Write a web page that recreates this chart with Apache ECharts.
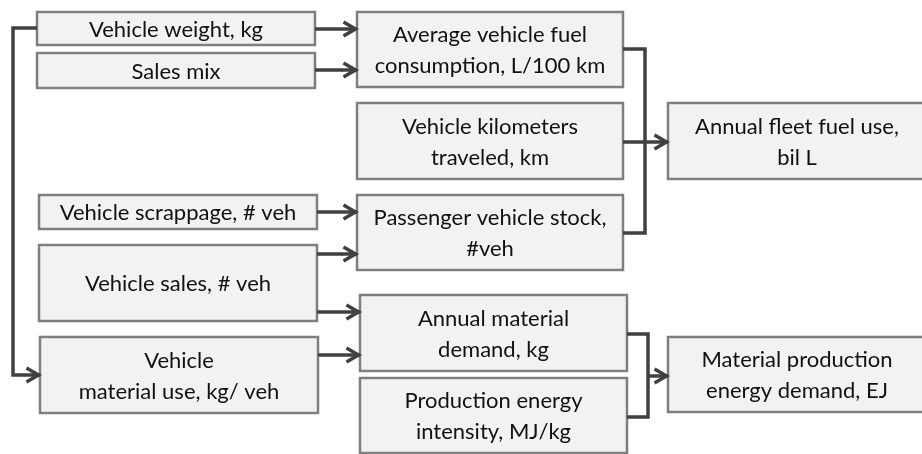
<!DOCTYPE html>
<html>
<head>
<meta charset="utf-8">
<script src="https://cdn.jsdelivr.net/npm/echarts@6/dist/echarts.min.js"></script>
<style>
html, body { margin: 0; padding: 0; background: #fff; }
#chart { width: 922px; height: 454px; }
</style>
</head>
<body>
<div id="chart"></div>
<script>
// box texts
var boxText = [
    'Vehicle weight, kg',
    'Sales mix',
    'Vehicle scrappage, # veh',
    'Vehicle sales, # veh',
    'Vehicle\nmaterial use, kg/ veh',
    'Average vehicle fuel\nconsumption, L/100 km',
    'Vehicle kilometers\ntraveled, km',
    'Passenger vehicle stock,\n#veh',
    'Annual material\ndemand, kg',
    'Production energy\nintensity, MJ/kg',
    'Annual fleet fuel use,\nbil L',
    'Material production\nenergy demand, EJ'
];
// box corners [x0, y0, x1, y1] in diagram units
var boxRect = [
    [37, 12, 315, 45],
    [37, 53, 315, 88],
    [39, 195, 317, 229],
    [39, 245, 317, 321],
    [40, 337, 318, 413],
    [357, 12, 623, 87],
    [357, 103, 623, 179],
    [357, 195, 623, 270],
    [360, 295, 627, 371],
    [360, 378, 627, 453],
    [668, 103, 926, 179],
    [668, 337, 926, 412]
];
// connector polylines
var links = [
    [[315, 29], [357, 29]],
    [[315, 70], [357, 70]],
    [[37, 28], [13, 28], [13, 375], [40, 375]],
    [[623, 49], [645, 49], [645, 233], [623, 233]],
    [[623, 142], [668, 142]],
    [[317, 212], [357, 212]],
    [[317, 254], [357, 254]],
    [[317, 312], [360, 312]],
    [[318, 355], [360, 355]],
    [[627, 334], [648, 334], [648, 417], [627, 417]],
    [[648, 376], [668, 376]]
];
var linkArrow = [true, true, true, false, true, true, true, true, true, false, true];

var myChart = echarts.init(document.getElementById('chart'));
var option = {
    animation: false,
    backgroundColor: '#fff',
    grid: { left: 0, right: 0, top: 0, bottom: 0 },
    xAxis: { type: 'value', min: 0, max: 922, show: false },
    yAxis: { type: 'value', min: 0, max: 454, inverse: true, show: false },
    series: [
        {
            type: 'custom',
            silent: true,
            clip: false,
            data: boxRect,
            renderItem: function (params, api) {
                var p0 = api.coord([api.value(0), api.value(1)]);
                var p1 = api.coord([api.value(2), api.value(3)]);
                return {
                    type: 'group',
                    children: [
                        {
                            type: 'rect',
                            shape: { x: p0[0], y: p0[1], width: p1[0] - p0[0], height: p1[1] - p0[1] },
                            style: { fill: '#f2f2f2', stroke: '#7f7f7f', lineWidth: 2.5 }
                        },
                        {
                            type: 'text',
                            style: {
                                text: boxText[params.dataIndex],
                                x: (p0[0] + p1[0]) / 2,
                                y: (p0[1] + p1[1]) / 2 + 1,
                                align: 'center',
                                verticalAlign: 'middle',
                                fontFamily: 'Lato',
                                fontSize: 22,
                                lineHeight: 31,
                                fill: '#111'
                            }
                        }
                    ]
                };
            }
        },
        {
            type: 'custom',
            silent: true,
            clip: false,
            data: links.map(function (l, i) { return [l[0][0], l[0][1], i]; }),
            renderItem: function (params, api) {
                var idx = api.value(2);
                var pts = links[idx].map(function (p) { return api.coord(p); });
                var children = [{
                    type: 'polyline',
                    shape: { points: pts },
                    style: { fill: null, stroke: '#404040', lineWidth: 3.5, lineJoin: 'miter' }
                }];
                if (linkArrow[idx]) {
                    var a = pts[pts.length - 2], b = pts[pts.length - 1];
                    var dx = b[0] - a[0], dy = b[1] - a[1];
                    var len = Math.sqrt(dx * dx + dy * dy);
                    var ux = dx / len, uy = dy / len;
                    var tip = [b[0] - ux * 1.5, b[1] - uy * 1.5];
                    var back = 12, half = 7;
                    children.push({
                        type: 'polyline',
                        shape: {
                            points: [
                                [tip[0] - ux * back - uy * half, tip[1] - uy * back + ux * half],
                                tip,
                                [tip[0] - ux * back + uy * half, tip[1] - uy * back - ux * half]
                            ]
                        },
                        style: { fill: null, stroke: '#404040', lineWidth: 3.5, lineJoin: 'miter' }
                    });
                }
                return { type: 'group', children: children };
            }
        }
    ]
};
myChart.setOption(option);
</script>
</body>
</html>
